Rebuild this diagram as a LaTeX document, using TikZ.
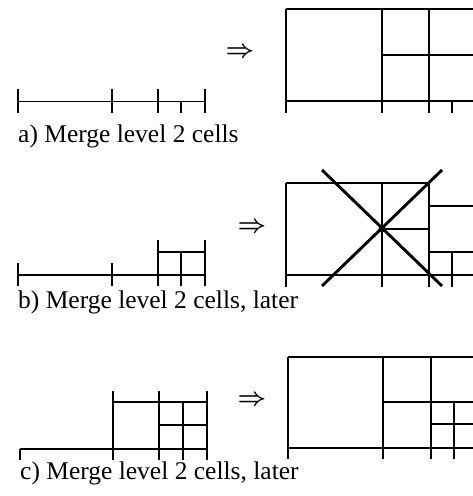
\documentclass[tikz,border=0pt]{standalone}
\usepackage{fontspec}
\setmainfont{Liberation Serif}
\begin{document}
\begin{tikzpicture}[x=1pt,y=-1pt,
  ln/.style={line width=1.4pt},
  crossln/.style={line width=2.9pt},
  lab/.style={anchor=base west, inner sep=0pt, font=\fontsize{25.5}{30}\selectfont},
  arr/.style={inner sep=0pt, font=\fontsize{27}{30}\selectfont\boldmath}]
\useasboundingbox (0,0) rectangle (473,496);
% ---------- a) ----------
\draw[ln] (18,101.5) -- (205,101.5);
\foreach \x in {18,112,158,205} \draw[ln] (\x,89) -- (\x,113);
\draw[ln] (181,101.5) -- (181,113);
\node[lab] (la) at (18,142) {a) Merge level 2 cells};
\node[arr] (aa) at (240,53) {$\Rightarrow$};
\draw[ln] (286,9) -- (473,9);
\draw[ln] (286,101) -- (473,101);
\foreach \x in {286,382,429} \draw[ln] (\x,9) -- (\x,113);
\draw[ln] (452,101) -- (452,113);
\draw[ln] (382,55) -- (473,55);
% ---------- b) ----------
\draw[ln] (18,275) -- (205,275);
\foreach \x in {18,112} \draw[ln] (\x,263) -- (\x,286);
\foreach \x in {158,205} \draw[ln] (\x,240) -- (\x,286);
\draw[ln] (181,252) -- (181,286);
\draw[ln] (158,252) -- (205,252);
\node[lab] (lb) at (18,308) {b) Merge level 2 cells, later};
\node[arr] (ab) at (252,228) {$\Rightarrow$};
\draw[ln] (286,183) -- (429,183);
\draw[ln] (286,275) -- (473,275);
\foreach \x in {286,382,429} \draw[ln] (\x,183) -- (\x,287);
\draw[ln] (382,229) -- (429,229);
\draw[ln] (429,206) -- (473,206);
\draw[ln] (429,252) -- (473,252);
\draw[ln] (452,252) -- (452,287);
\draw[crossln] (322,170) -- (442,286);
\draw[crossln] (322,286) -- (442,170);
\fill (382,229) circle (3.5);
% ---------- c) ----------
\draw[ln] (20,449) -- (207,449);
\draw[ln] (20,449) -- (20,460);
\foreach \x in {113,159,207} \draw[ln] (\x,391) -- (\x,460);
\draw[ln] (183,402) -- (183,460);
\draw[ln] (113,402) -- (207,402);
\draw[ln] (159,425) -- (207,425);
\node[lab] (lc) at (20,479) {c) Merge level 2 cells, later};
\node[arr] (ac) at (252,401) {$\Rightarrow$};
\draw[ln] (288,357) -- (473,357);
\draw[ln] (288,448) -- (473,448);
\foreach \x in {288,383,431} \draw[ln] (\x,357) -- (\x,459);
\draw[ln] (454,402) -- (454,459);
\draw[ln] (383,402) -- (473,402);
\draw[ln] (431,424) -- (473,424);
\end{tikzpicture}
\end{document}
